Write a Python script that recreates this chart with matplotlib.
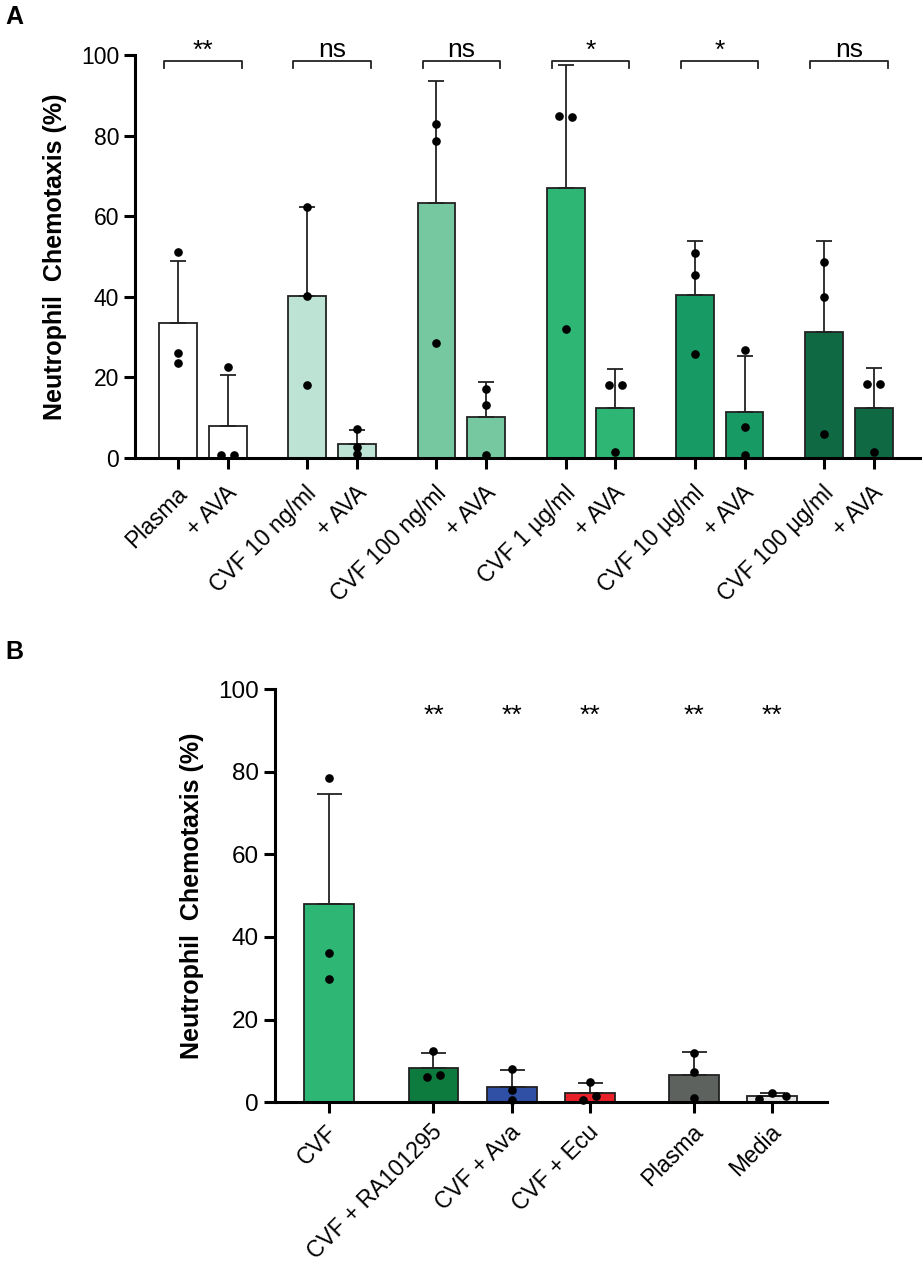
import numpy as np
import matplotlib
matplotlib.use("Agg")
import matplotlib.pyplot as plt
from matplotlib.transforms import ScaledTranslation

plt.rcParams['font.family'] = ['Liberation Sans', 'DejaVu Sans']

# ---------------- Panel A data ----------------
a_labels = ["Plasma", "+ AVA", "CVF 10 ng/ml", "+ AVA", "CVF 100 ng/ml", "+ AVA",
            "CVF 1 µg/ml", "+ AVA", "CVF 10 µg/ml", "+ AVA", "CVF 100 µg/ml", "+ AVA"]
a_means = [33.4, 7.9, 40.1, 3.5, 63.3, 10.2, 66.9, 12.3, 40.4, 11.5, 31.3, 12.4]
a_sd = [15.5, 12.8, 22.2, 3.4, 30.2, 8.7, 30.6, 9.8, 13.4, 13.7, 22.5, 9.9]
a_points = [[51.0, 26.1, 23.5], [22.7, 0.7, 0.7],
            [62.3, 40.1, 18.1], [7.1, 2.8, 0.9],
            [82.8, 78.7, 28.6], [17.0, 13.2, 0.7],
            [84.9, 84.5, 32.1], [18.0, 18.0, 1.4],
            [50.8, 45.3, 25.8], [26.7, 7.6, 0.7],
            [48.6, 39.9, 6.0], [18.3, 18.3, 1.4]]
a_colors = ["#FFFFFF", "#FFFFFF", "#BCE3D4", "#BCE3D4", "#76C8A0", "#76C8A0",
            "#2DB674", "#2DB674", "#179A63", "#179A63", "#0F6A43", "#0F6A43"]
a_sig = ["**", "ns", "ns", "*", "*", "ns"]

# ---------------- Panel B data ----------------
b_labels = ["CVF", "CVF + RA101295", "CVF + Ava", "CVF + Ecu", "Plasma", "Media"]
b_means = [48.0, 8.3, 3.8, 2.2, 6.5, 1.5]
b_sd = [26.6, 3.6, 4.0, 2.4, 5.7, 0.7]
b_points = [[78.4, 36.2, 29.8], [12.4, 6.2, 6.7], [8.1, 3.0, 0.6],
            [5.0, 0.6, 1.5], [12.0, 7.4, 1.0], [0.9, 2.3, 1.5]]
b_colors = ["#2DB674", "#0D7A3E", "#3050A5", "#E8202A", "#5E625F", "#E6E6E6"]
b_sig = ["", "**", "**", "**", "**", "**"]

W, H = 922, 1264
fig = plt.figure(figsize=(W / 100, H / 100), dpi=100)


def rect(left, right, y0, y100):
    return [left / W, 1 - y0 / H, (right - left) / W, (y0 - y100) / H]


def spread(vals, sep, thr=1.5):
    vals = list(vals)
    n = len(vals)
    parent = list(range(n))

    def find(i):
        while parent[i] != i:
            i = parent[i]
        return i
    for i in range(n):
        for j in range(i + 1, n):
            if abs(vals[i] - vals[j]) < thr:
                parent[find(j)] = find(i)
    offs = [0.0] * n
    groups = {}
    for i in range(n):
        groups.setdefault(find(i), []).append(i)
    for g in groups.values():
        k = len(g)
        for r, idx in enumerate(g):
            offs[idx] = (r - (k - 1) / 2) * sep
    return offs


def style_axes(ax, ylab_size, xpad):
    for s in ["top", "right"]:
        ax.spines[s].set_visible(False)
    for s in ["left", "bottom"]:
        ax.spines[s].set_linewidth(2.2)
    ax.tick_params(axis="both", width=2.2, length=8, color="black")
    ax.tick_params(axis="y", labelsize=ylab_size)
    ax.tick_params(axis="x", labelsize=16.5, pad=xpad)
    ax.set_ylim(0, 100)
    ax.set_yticks([0, 20, 40, 60, 80, 100])


def shift_labels(ax, dx_px):
    off = ScaledTranslation(dx_px / 100, 0, fig.dpi_scale_trans)
    for lab in ax.get_xticklabels():
        lab.set_transform(lab.get_transform() + off)


def draw(ax, x, means, sd, points, colors, width, sep, cap):
    ax.bar(x, means, width=width, color=colors, edgecolor="#222222", linewidth=1.3, zorder=2)
    ax.errorbar(x, means, yerr=[np.zeros(len(sd)), sd], fmt="none", ecolor="#222222",
                elinewidth=1.3, capsize=cap, capthick=1.3, zorder=3)
    for xi, pts in zip(x, points):
        offs = spread(pts, sep)
        ax.plot(xi + np.array(offs), pts, "o", color="black", ms=5.2, zorder=4,
                clip_on=False)


# ---------------- Panel A ----------------
axA = fig.add_axes(rect(135, 920, 458, 55))
xA = np.array([0, 1, 2.6, 3.6, 5.2, 6.2, 7.8, 8.8, 10.4, 11.4, 13, 14])
draw(axA, xA, a_means, a_sd, a_points, a_colors, 0.76, 0.26, 6)
style_axes(axA, 16.5, 15)
axA.set_xlim(-0.865, 14.93)
axA.set_xticks(xA)
axA.set_xticklabels(a_labels, rotation=45, ha="right", va="center", rotation_mode="anchor")
shift_labels(axA, 6)
axA.set_ylabel("Neutrophil  Chemotaxis (%)", fontsize=18, fontweight="bold", labelpad=10)
for k, s in enumerate(a_sig):
    mid = (xA[2 * k] + xA[2 * k + 1]) / 2
    x0, x1 = mid - 0.78, mid + 0.78
    axA.plot([x0, x0, x1, x1], [96.8, 98.4, 98.4, 96.8], color="#222222", lw=1.3,
             clip_on=False)
    axA.text(mid, 99.4, s, ha="center", va="baseline", fontsize=19, clip_on=False)

# ---------------- Panel B ----------------
axB = fig.add_axes(rect(275, 827, 1102.3, 689))
xB = np.array([0, 1.34, 2.34, 3.34, 4.68, 5.68])
draw(axB, xB, b_means, b_sd, b_points, b_colors, 0.64, 0.17, 9)
style_axes(axB, 17.5, 11)
axB.set_xlim(-0.69, 6.38)
axB.set_xticks(xB)
axB.set_xticklabels(b_labels, rotation=45, ha="right", va="center", rotation_mode="anchor")
shift_labels(axB, 5)
axB.set_ylabel("Neutrophil  Chemotaxis (%)", fontsize=18, fontweight="bold", labelpad=10)
for xi, s in zip(xB, b_sig):
    if s:
        axB.text(xi, 91.8, s, ha="center", va="baseline", fontsize=19)

fig.text(5 / W, 1 - 5 / H, "A", fontsize=18, fontweight="bold", va="top", ha="left")
fig.text(5 / W, 1 - 640 / H, "B", fontsize=18, fontweight="bold", va="top", ha="left")

fig.savefig("out.png", dpi=100)
